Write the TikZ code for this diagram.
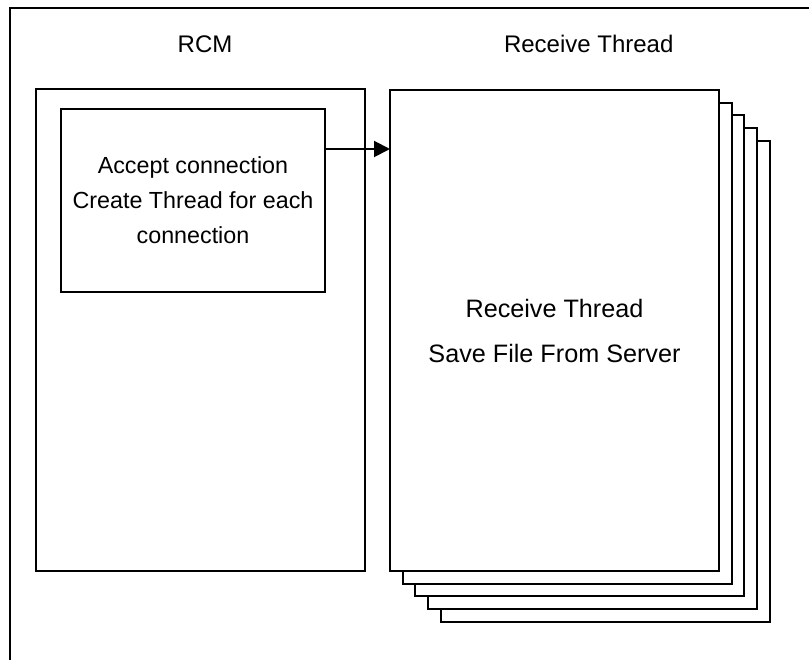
\documentclass[tikz,border=0pt]{standalone}
\usepackage{fontspec}
\setmainfont{Liberation Sans}
\usetikzlibrary{arrows.meta}
\begin{document}
\begin{tikzpicture}[x=1pt,y=-1pt, line width=2pt,
  box/.style={draw=black, fill=white, rectangle, inner sep=0pt, outer sep=0pt, anchor=north west, align=center},
  sheet/.style={box, minimum width=329pt, minimum height=481pt},
  title/.style={font=\fontsize{24}{28}\selectfont, inner sep=0pt},
  lefttext/.style={font=\fontsize{23.3}{35}\selectfont},
  righttext/.style={font=\fontsize{25.2}{45}\selectfont}]
\useasboundingbox (0,0) rectangle (809,660);
% outer frame (cropped on right and bottom)
\draw (10,661) -- (10,8) -- (810,8);
% titles
\node[title, anchor=base] (tRCM) at (205,53) {RCM};
\node[title, anchor=base west] (tRT) at (503,53) {Receive Thread};
% RCM box
\node[box, minimum width=329pt, minimum height=482pt] (rcm) at (36,89) {};
\node[box, lefttext, minimum width=264pt, minimum height=183pt] (inner) at (61,109)
  {Accept connection\\Create Thread for each\\connection};
% stacked receive threads
\foreach \i in {4,3,2,1}
  \node[sheet] (sheet\i) at (390+12.7*\i, 90+12.7*\i) {};
\node[sheet, righttext] (front) at (390,90) {Receive Thread\\Save File From Server};
% arrow
\coordinate (ay) at (0,149);
\draw[-{Triangle[length=16pt,width=16pt]}] (inner.east |- ay) -- (front.west |- ay);
\end{tikzpicture}
\end{document}
